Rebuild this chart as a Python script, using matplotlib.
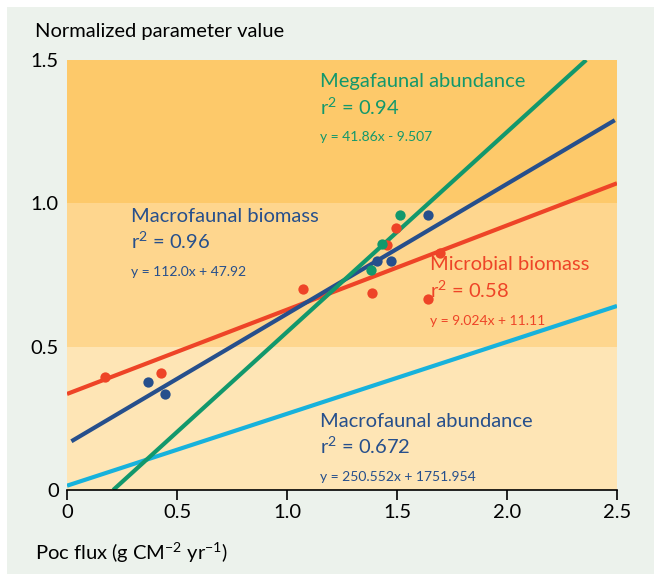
import matplotlib
matplotlib.use("Agg")
import matplotlib.pyplot as plt
from matplotlib.patches import Rectangle

plt.rcParams['font.family'] = ['Lato', 'DejaVu Sans']
plt.rcParams['mathtext.fontset'] = 'custom'
plt.rcParams['mathtext.rm'] = 'Lato'
plt.rcParams['mathtext.it'] = 'Lato'

# scatter points
mega_x = [1.382, 1.430, 1.514]
mega_y = [0.767, 0.857, 0.959]
macro_bio_x = [0.370, 0.447, 1.408, 1.471, 1.642]
macro_bio_y = [0.378, 0.334, 0.799, 0.799, 0.959]
micro_x = [0.173, 0.426, 1.074, 1.388, 1.453, 1.494, 1.642, 1.695]
micro_y = [0.395, 0.409, 0.701, 0.686, 0.855, 0.913, 0.665, 0.826]

# fitted lines (end points)
mega_line_x = [0.21, 2.36]
mega_line_y = [0.0, 1.5]
macro_bio_line_x = [0.02, 2.49]
macro_bio_line_y = [0.17, 1.29]
micro_line_x = [0.0, 2.5]
micro_line_y = [0.335, 1.07]
macro_ab_line_x = [0.0, 2.5]
macro_ab_line_y = [0.015, 0.642]

bands = [(0.0, 0.5), (0.5, 1.0), (1.0, 1.5)]
band_colors = ['#fee5b5', '#fed68e', '#fdc96a']

xticks = [0, 0.5, 1.0, 1.5, 2.0, 2.5]
xtick_labels = ['0', '0.5', '1.0', '1.5', '2.0', '2.5']
yticks = [0, 0.5, 1.0, 1.5]
ytick_labels = ['0', '0.5', '1.0', '1.5']

green = '#12986c'
blue = '#264f8c'
red = '#ee4427'
cyan = '#17b2dc'

fig = plt.figure(figsize=(6.54, 5.74), dpi=100, facecolor='white')
fig.patches.append(Rectangle((7 / 654, 0), 1, 1 - 7 / 574, transform=fig.transFigure,
                             facecolor='#ecf2ec', edgecolor='none', zorder=-10))

ax = fig.add_axes([67 / 654, 84 / 574, 550 / 654, 430 / 574])
ax.set_xlim(0, 2.5)
ax.set_ylim(0, 1.5)
ax.patch.set_alpha(0)
for (lo, hi), c in zip(bands, band_colors):
    ax.axhspan(lo, hi, color=c, lw=0, zorder=0)

ax.plot(macro_ab_line_x, macro_ab_line_y, color=cyan, lw=3, solid_capstyle='butt', zorder=2)
ax.plot(micro_line_x, micro_line_y, color=red, lw=3, solid_capstyle='butt', zorder=2)
ax.plot(macro_bio_line_x, macro_bio_line_y, color=blue, lw=3, solid_capstyle='butt', zorder=2)
ax.plot(mega_line_x, mega_line_y, color=green, lw=3, solid_capstyle='butt', zorder=2)

ax.scatter(micro_x, micro_y, s=55, color=red, lw=0, zorder=3)
ax.scatter(macro_bio_x, macro_bio_y, s=55, color=blue, lw=0, zorder=3)
ax.scatter(mega_x, mega_y, s=55, color=green, lw=0, zorder=3)

for s in ['left', 'top', 'right']:
    ax.spines[s].set_visible(False)
ax.spines['bottom'].set_linewidth(1.2)
ax.set_xticks(xticks, xtick_labels, fontsize=14.5)
ax.set_yticks(yticks, ytick_labels, fontsize=14.5)
ax.tick_params(axis='x', direction='out', length=7, width=1.2, pad=3)
ax.tick_params(axis='y', length=0, pad=6)

def label(x, y, lines, color):
    t1, t2, t3 = lines
    ax.text(x, y, t1, color=color, fontsize=14.5, va='center', zorder=4)
    ax.text(x, y - 0.088, t2, color=color, fontsize=14.5, va='center', zorder=4)
    ax.text(x, y - 0.195, t3, color=color, fontsize=10, va='center', zorder=4)

label(1.15, 1.425, ['Megafaunal abundance', 'r$^{2}$ = 0.94', 'y = 41.86x - 9.507'], green)
label(0.29, 0.955, ['Macrofaunal biomass', 'r$^{2}$ = 0.96', 'y = 112.0x + 47.92'], blue)
label(1.65, 0.785, ['Microbial biomass', 'r$^{2}$ = 0.58', 'y = 9.024x + 11.11'], red)
label(1.15, 0.24, ['Macrofaunal abundance', 'r$^{2}$ = 0.672', 'y = 250.552x + 1751.954'], blue)

fig.text(35 / 654, 1 - 32 / 574, 'Normalized parameter value', fontsize=14.5, va='center')
fig.text(35 / 654, 1 - 553 / 574, 'Poc flux (g CM$^{-2}$ yr$^{-1}$)', fontsize=14.5, va='center')

fig.savefig('out.png', dpi=100, facecolor=fig.get_facecolor())
